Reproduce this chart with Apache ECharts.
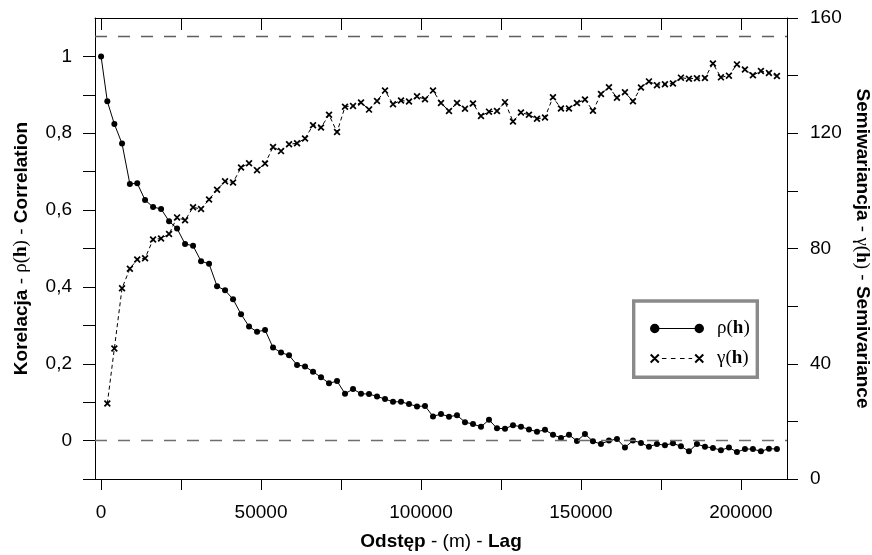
<!DOCTYPE html>
<html><head><meta charset="utf-8">
<script src="https://cdn.jsdelivr.net/npm/echarts@6/dist/echarts.min.js"></script>
<style>html,body{margin:0;padding:0;background:#fff}#c{width:872px;height:555px}</style>
</head><body><div id="c"></div>
<script>
// Lag distances (m)
const lags = [0, 1950, 4150, 6550, 9000, 11300, 13750, 16250, 18750, 21250,
  23750, 26250, 28750, 31250, 33750, 36250, 38750, 41250, 43750, 46250,
  48750, 51250, 53750, 56250, 58750, 61250, 63750, 66250, 68750, 71250,
  73750, 76250, 78750, 81250, 83750, 86250, 88750, 91250, 93750, 96250,
  98750, 101250, 103750, 106250, 108750, 111250, 113750, 116250, 118750, 121250,
  123750, 126250, 128750, 131250, 133750, 136250, 138750, 141250, 143750, 146250,
  148750, 151250, 153750, 156250, 158750, 161250, 163750, 166250, 168750, 171250,
  173750, 176250, 178750, 181250, 183750, 186250, 188750, 191250, 193750, 196250,
  198750, 201250, 203750, 206250, 208750, 211250];
// Correlation rho(h), one per lag
const rho = [1.000, 0.883, 0.824, 0.773, 0.668, 0.670, 0.626, 0.608, 0.603, 0.571,
  0.552, 0.512, 0.507, 0.467, 0.460, 0.402, 0.391, 0.368, 0.329, 0.297,
  0.283, 0.288, 0.242, 0.229, 0.222, 0.197, 0.193, 0.179, 0.165, 0.149,
  0.155, 0.122, 0.134, 0.122, 0.121, 0.115, 0.108, 0.101, 0.101, 0.095,
  0.089, 0.090, 0.063, 0.069, 0.062, 0.066, 0.048, 0.043, 0.036, 0.054,
  0.032, 0.031, 0.040, 0.036, 0.029, 0.023, 0.028, 0.015, 0.007, 0.015,
  -0.001, 0.017, -0.002, -0.009, 0.000, 0.004, -0.018, 0.000, -0.006, -0.016,
  -0.009, -0.012, -0.007, -0.015, -0.028, -0.009, -0.016, -0.019, -0.025, -0.018,
  -0.030, -0.022, -0.022, -0.028, -0.021, -0.022];
// Semivariance gamma(h), for lags[1..]
const gamma = [26.2, 45.3, 66.2, 73.0, 76.2, 76.6, 83.1, 83.5, 85.0,
  90.8, 89.8, 94.3, 93.7, 97.0, 100.4, 103.3, 102.9, 108.1, 109.6,
  107.2, 109.5, 115.2, 113.8, 116.2, 116.5, 118.2, 122.8, 122.0, 126.4,
  120.4, 129.2, 129.5, 130.7, 128.2, 131.2, 134.8, 130.1, 131.4, 131.0,
  132.8, 131.8, 134.8, 130.5, 127.7, 130.5, 128.5, 130.3, 126.0, 127.5,
  127.7, 130.8, 124.1, 127.2, 126.4, 125.0, 125.5, 132.5, 128.6, 128.6,
  130.5, 131.7, 127.8, 133.6, 136.0, 132.3, 134.2, 131.1, 135.9, 138.0,
  136.7, 137.0, 137.3, 139.3, 138.9, 139.1, 139.2, 144.2, 139.4, 140.0,
  143.9, 142.1, 140.1, 141.6, 140.9, 139.9];
const xTicks = [0, 25000, 50000, 75000, 100000, 125000, 150000, 175000, 200000];
const xLabels = [0, 50000, 100000, 150000, 200000];
const leftTicks = [-0.1, 0, 0.1, 0.2, 0.3, 0.4, 0.5, 0.6, 0.7, 0.8, 0.9, 1.0];
const leftLabels = [0, 0.2, 0.4, 0.6, 0.8, 1];
const rightTicks = [0, 20, 40, 60, 80, 100, 120, 140, 160];
const rightLabels = [0, 40, 80, 120, 160];
const zeroRef = 0;      // rho = 0 reference
const sillRef = 153.7;  // variance reference (right axis)

function makeX(cx, cy, h, w) {
  const d = w / (2 * Math.SQRT2);
  const p = (x, y) => (cx + x).toFixed(3) + ',' + (cy + y).toFixed(3);
  return 'M' + p(-h + d, -h - d) + 'L' + p(h + d, h - d) + 'L' + p(h - d, h + d) + 'L' + p(-h - d, -h + d) + 'Z' +
         'M' + p(-h + d, h + d) + 'L' + p(-h - d, h - d) + 'L' + p(h - d, -h - d) + 'L' + p(h + d, -h + d) + 'Z';
}
const xSymbol = 'path://' + makeX(6, 6, 5, 3.0);
const rhoIcon = 'path://M0,4.75A4.75,4.75 0 1 1 9.5,4.75A4.75,4.75 0 1 1 0,4.75Z ' +
  'M4.75,4.15L49.25,4.15L49.25,5.35L4.75,5.35Z ' +
  'M44.5,4.75A4.75,4.75 0 1 1 54,4.75A4.75,4.75 0 1 1 44.5,4.75Z';
const gammaIcon = 'path://' + makeX(4.9, 4.75, 4.0, 2.0) +
  'M12,4.3L16.5,4.3L16.5,5.2L12,5.2Z M21,4.3L25.5,4.3L25.5,5.2L21,5.2Z M30,4.3L34.5,4.3L34.5,5.2L30,5.2Z M38.5,4.3L42,4.3L42,5.2L38.5,5.2Z' +
  makeX(49.1, 4.75, 4.0, 2.0);

const SANS = 'Liberation Sans, Arial, sans-serif';
const SERIF = 'Liberation Serif, Times New Roman, serif';
const FS = 19;
const rich = {
  b: {fontFamily: SANS, fontWeight: 'bold', fontSize: FS, color: '#000'},
  n: {fontFamily: SANS, fontSize: FS, color: '#000'},
  s: {fontFamily: SERIF, fontSize: FS, color: '#000'},
  sb: {fontFamily: SERIF, fontWeight: 'bold', fontSize: FS, color: '#000'}
};
const axisLine = {show: true, onZero: false, lineStyle: {color: '#000', width: 1}};
const lbl = {fontFamily: SANS, fontSize: FS, color: '#000'};

const chart = echarts.init(document.getElementById('c'));
chart.setOption({
  animation: false,
  backgroundColor: '#fff',
  grid: {left: 95, right: 85, top: 18, bottom: 76, containLabel: false, outerBoundsMode: 'none'},
  xAxis: [{
    type: 'value', position: 'bottom', min: -1900, max: 214400,
    axisLine: axisLine, splitLine: {show: false},
    axisTick: {show: true, inside: false, length: 11, customValues: xTicks, lineStyle: {color: '#000'}},
    axisLabel: Object.assign({margin: 24, customValues: xLabels, formatter: v => String(v)}, lbl),
    name: '{b|Odstęp}{n| - (m) - }{b|Lag}', nameLocation: 'middle', nameGap: 53,
    nameTextStyle: {rich: rich}
  }, {
    type: 'value', position: 'top', min: -1900, max: 214400,
    axisLine: axisLine, splitLine: {show: false},
    axisTick: {show: true, inside: true, length: 12, customValues: xTicks, lineStyle: {color: '#000'}},
    axisLabel: {show: false}
  }],
  yAxis: [{
    type: 'value', position: 'left', min: -0.1, max: 1.1,
    axisLine: axisLine, splitLine: {show: false},
    axisTick: {show: true, inside: false, length: 12, customValues: leftTicks, lineStyle: {color: '#000'}},
    axisLabel: Object.assign({margin: 23, customValues: leftLabels, formatter: v => String(v).replace('.', ',')}, lbl),
    name: '{b|Korelacja}{n| - }{s|ρ(}{sb|h}{s|)}{n| - }{b|Correlation}',
    nameLocation: 'middle', nameRotate: 90, nameGap: 64, nameTextStyle: {rich: rich}
  }, {
    type: 'value', position: 'right', min: 0, max: 160,
    axisLine: axisLine, splitLine: {show: false},
    axisTick: {show: true, inside: false, length: 11, customValues: rightTicks, lineStyle: {color: '#000'}},
    axisLabel: Object.assign({margin: 23, customValues: rightLabels, formatter: v => String(v)}, lbl),
    name: '{b|Semiwariancja}{n| - }{s|γ(}{sb|h}{s|)}{n| - }{b|Semivariance}',
    nameLocation: 'middle', nameRotate: -90, nameGap: 62, nameTextStyle: {rich: rich}
  }],
  legend: {
    orient: 'vertical', left: 645, top: 314, itemWidth: 54, itemHeight: 10, itemGap: 11, z: 10,
    selectedMode: false,
    data: [{name: 'ρ(h)', icon: rhoIcon}, {name: 'γ(h)', icon: gammaIcon}],
    itemStyle: {color: '#000', borderWidth: 0},
    formatter: n => '{s|' + n.slice(0, 2) + '}{sb|h}{s|)}',
    textStyle: {padding: [0, 0, 0, 8], rich: {
      s: {fontFamily: SERIF, fontSize: 19, color: '#000'},
      sb: {fontFamily: SERIF, fontSize: 19, fontWeight: 'bold', color: '#000'}
    }}
  },
  graphic: [{
    type: 'rect', z: 5,
    shape: {x: 633.7, y: 301, width: 123.6, height: 76.3},
    style: {fill: '#fff', stroke: '#8a8a8a', lineWidth: 3.4}
  }],
  series: [{
    name: 'ρ(h)', type: 'line', xAxisIndex: 0, yAxisIndex: 0,
    data: lags.map((l, i) => [l, rho[i]]),
    symbol: 'circle', symbolSize: 6, showAllSymbol: true,
    itemStyle: {color: '#000'}, lineStyle: {color: '#000', width: 1},
    markLine: {silent: true, symbol: ['none', 'none'], label: {show: false},
      lineStyle: {color: '#6e6e6e', type: [12, 11], width: 1.3}, data: [{yAxis: zeroRef}]}
  }, {
    name: 'γ(h)', type: 'line', xAxisIndex: 0, yAxisIndex: 1,
    data: gamma.map((g, i) => [lags[i + 1], g]),
    symbol: xSymbol, symbolSize: 7, showAllSymbol: true,
    itemStyle: {color: '#000'}, lineStyle: {color: '#000', width: 1, type: [4, 3]},
    markLine: {silent: true, symbol: ['none', 'none'], label: {show: false},
      lineStyle: {color: '#5e5e5e', type: [12, 11], width: 1.3}, data: [{yAxis: sillRef}]}
  }]
});
</script>
</body></html>
